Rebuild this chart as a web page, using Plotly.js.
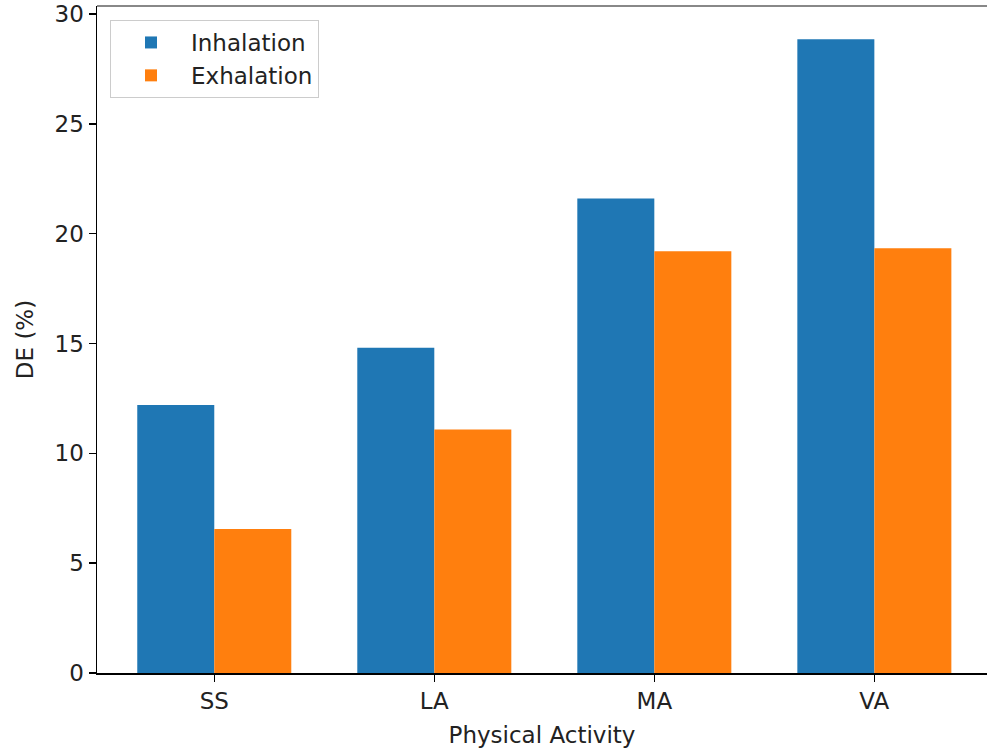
<!DOCTYPE html>
<html>
<head>
<meta charset="utf-8">
<script src="https://cdn.plot.ly/plotly-3.0.1.min.js"></script>
<style>html,body{margin:0;padding:0;background:#fff;}#chart{width:987px;height:752px;}</style>
</head>
<body>
<div id="chart"></div>
<script>
const categories = ["SS", "LA", "MA", "VA"];
const inhalation = [12.2, 14.8, 21.6, 28.85];
const exhalation = [6.55, 11.08, 19.2, 19.33];
const seriesNames = ["Inhalation", "Exhalation"];
const yTicks = [0, 5, 10, 15, 20, 25, 30];

const font = {family: "DejaVu Sans, sans-serif", size: 23, color: "#222"};

const traces = [
  {type: "bar", name: seriesNames[0], x: categories, y: inhalation, marker: {color: "#1f77b4", line: {width: 0}}},
  {type: "bar", name: seriesNames[1], x: categories, y: exhalation, marker: {color: "#ff7f0e", line: {width: 0}}}
];

const layout = {
  width: 987, height: 752,
  margin: {l: 97, r: 0, t: 6, b: 79},
  paper_bgcolor: "#fff", plot_bgcolor: "#fff",
  font: font,
  barmode: "group", bargap: 0.3, bargroupgap: 0,
  xaxis: {
    type: "category", range: [-0.533, 3.512],
    showline: true, linecolor: "#000", linewidth: 1.5,
    ticks: "outside", ticklen: 7, tickwidth: 1.5, tickcolor: "#000",
    showgrid: false, zeroline: false, tickfont: font,
    title: {text: "Physical Activity", font: font, standoff: 14}
  },
  yaxis: {
    range: [0, 30.36], tickvals: yTicks, ticktext: yTicks.map(String),
    showline: true, linecolor: "#000", linewidth: 1.5,
    ticks: "outside", ticklen: 7, tickwidth: 1.5, tickcolor: "#000",
    showgrid: false, zeroline: false, tickfont: font,
    title: {text: "DE (%)", font: font, standoff: 14}
  },
  shapes: [
    {type: "line", xref: "paper", yref: "paper", x0: 0, x1: 1, y0: 1, y1: 1, line: {color: "#888", width: 2}}
  ],
  legend: {
    x: 0.0146, y: 0.979, xanchor: "left", yanchor: "top",
    bgcolor: "rgba(255,255,255,0.8)", bordercolor: "#ccc", borderwidth: 1,
    font: font, itemwidth: 70, tracegroupgap: 6
  },
  showlegend: true
};

Plotly.newPlot("chart", traces, layout, {displayModeBar: false, staticPlot: true});
</script>
</body>
</html>
